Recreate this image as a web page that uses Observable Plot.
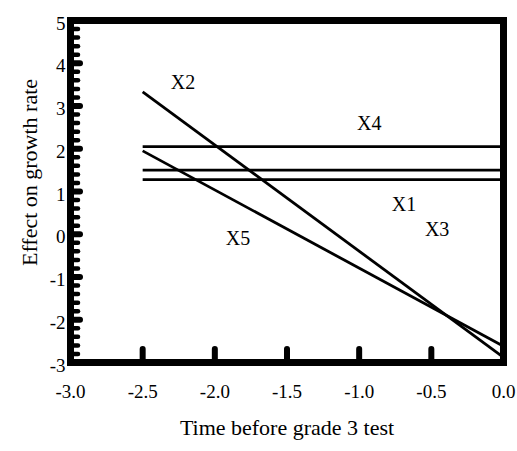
<!DOCTYPE html>
<html>
<head>
<meta charset="utf-8">
<script src="https://cdn.jsdelivr.net/npm/d3@7"></script>
<script src="https://cdn.jsdelivr.net/npm/@observablehq/plot@0.6"></script>
<style>
  html, body { margin: 0; padding: 0; background: #fff; }
  #chart svg { display: block; }
</style>
</head>
<body>
<div id="chart"></div>
<script>
// Series (lines from x = -2.5 to x = 0)
const series = ["X1", "X2", "X3", "X4", "X5"];
const xStart = [-2.5, -2.5, -2.5, -2.5, -2.5];
const xEnd   = [0, 0, 0, 0, 0];
const yStart = [1.50, 3.33, 1.28, 2.05, 1.95];
const yEnd   = [1.50, -2.88, 1.28, 2.05, -2.62];

// Series label positions
const labelX = [-0.69, -2.22, -0.46, -0.93, -1.84];
const labelY = [0.69, 3.54, 0.10, 2.59, -0.10];

// Axis ticks
const xTicks = [-3.0, -2.5, -2.0, -1.5, -1.0, -0.5, 0.0];
const xTickMarks = [-2.5, -2.0, -1.5, -1.0, -0.5];
const yTicks = [-3, -2, -1, 0, 1, 2, 3, 4, 5];
const yMinorTicks = d3.range(-3, 5.001, 0.2).filter(v => Math.abs(v - Math.round(v)) > 0.01);

const xTitle = "Time before grade 3 test";
const yTitle = "Effect on growth rate";

const lines = series.map((s, i) => ({series: s, x1: xStart[i], y1: yStart[i], x2: xEnd[i], y2: yEnd[i]}));
const labels = series.map((s, i) => ({series: s, x: labelX[i], y: labelY[i]}));

const font = "'Liberation Serif', 'Times New Roman', serif";
const W = 517, H = 451, ML = 70, MR = 14, MT = 20, MB = 89;
const innerW = W - ML - MR, innerH = H - MT - MB;
const hy = s => s.replace("\u2212", "-");

const chart = Plot.plot({
  width: W,
  height: H,
  marginLeft: ML,
  marginRight: MR,
  marginTop: MT,
  marginBottom: MB,
  style: {fontFamily: font, background: "#fff", color: "#000"},
  x: {domain: [-3, 0]},
  y: {domain: [-3, 5]},
  marks: [
    // minor y tick blobs (inside the frame)
    Plot.tickY(yMinorTicks, {y: d => d, insetRight: innerW - 8, stroke: "#000", strokeWidth: 4.5, strokeLinecap: "round"}),
    // major y tick blobs
    Plot.tickY(yTicks, {y: d => d, insetRight: innerW - 10, stroke: "#000", strokeWidth: 6, strokeLinecap: "round"}),
    // x tick blobs
    Plot.tickX(xTickMarks, {x: d => d, insetTop: innerH - 13, stroke: "#000", strokeWidth: 6, strokeLinecap: "round"}),
    // y tick labels
    Plot.axisY({ticks: yTicks, tickSize: 0, tickPadding: 5, dy: 3, tickFormat: d => hy(d3.format("d")(d)), fontSize: 19, label: null}),
    // x tick labels
    Plot.axisX({ticks: xTicks, tickSize: 0, tickPadding: 22, tickFormat: d => hy(d3.format(".1f")(d)), fontSize: 19, label: null}),
    Plot.frame({stroke: "#000", strokeWidth: 7}),
    Plot.link(lines, {x1: "x1", y1: "y1", x2: "x2", y2: "y2", stroke: "#000", strokeWidth: 2.8}),
    Plot.text(labels, {x: "x", y: "y", text: "series", fontSize: 20, fill: "#000"}),
    Plot.text([xTitle], {frameAnchor: "bottom", dy: 72, fontSize: 22, fill: "#000"}),
    Plot.text([yTitle], {frameAnchor: "left", textAnchor: "middle", dx: -41, dy: -19, rotate: -90, fontSize: 22, fill: "#000"})
  ]
});
document.getElementById("chart").appendChild(chart);
</script>
</body>
</html>
